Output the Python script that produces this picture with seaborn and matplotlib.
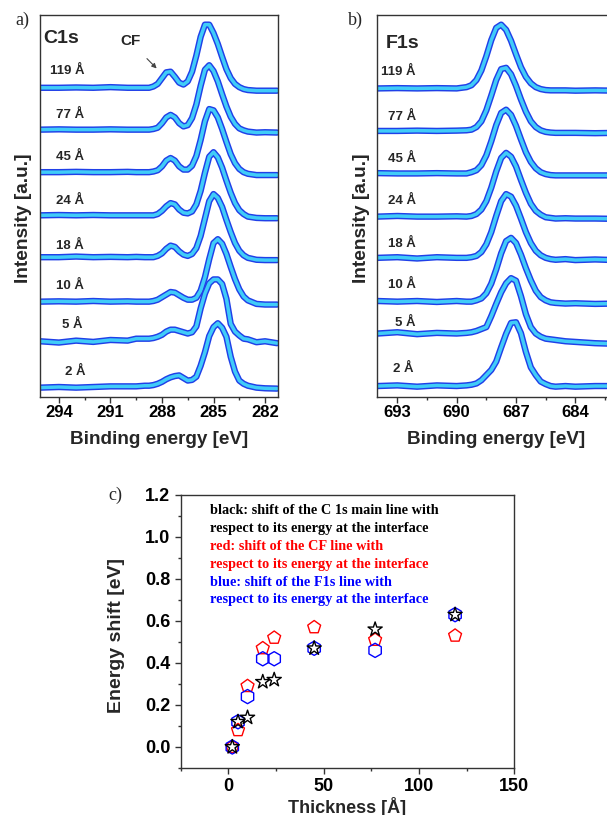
import numpy as np
import matplotlib
matplotlib.use("Agg")
import matplotlib.pyplot as plt
from matplotlib.ticker import MultipleLocator, FormatStrFormatter
import seaborn as sns

sns.set_style("ticks")
plt.rcParams["font.family"] = ["Liberation Sans", "DejaVu Sans"]
plt.rcParams["font.weight"] = "bold"
plt.rcParams["axes.labelweight"] = "bold"

# ====================================
# DATA
# ====================================

thickness_labels = ["119 Å", "77 Å", "45 Å", "24 Å", "18 Å", "10 Å", "5 Å", "2 Å"]

# C 1s spectra (normalised, relative to left baseline)
c1s_energy = [295.1, 294.0, 293.0, 292.0, 291.0, 290.0, 289.5,
              289.0, 288.75, 288.5, 288.25, 288.0, 287.75, 287.5, 287.25,
              287.0, 286.75, 286.5, 286.25, 286.0, 285.75, 285.5, 285.25,
              285.0, 284.75, 284.5, 284.25, 284.0, 283.75, 283.5, 283.25,
              283.0, 282.5, 282.0, 281.3]

c1s_119 = [0.0, 0.0, 0.005, 0.0, 0.01, 0.0, 0.0,
           0.0, 0.0, 0.02, 0.06, 0.15, 0.24, 0.25, 0.17, 0.08, 0.05, 0.10,
           0.25, 0.50, 0.79, 0.98, 0.98, 0.85, 0.68, 0.48, 0.29, 0.15, 0.06,
           0.01, -0.02, -0.035, -0.045, -0.045, -0.045]
c1s_77 = [0.0, 0.005, 0.0, 0.0, 0.005, 0.0, 0.0,
          0.0, 0.0, 0.01, 0.03, 0.10, 0.19, 0.23, 0.19, 0.10, 0.05, 0.07,
          0.18, 0.39, 0.68, 0.93, 1.0, 0.91, 0.75, 0.55, 0.36, 0.20, 0.09,
          0.02, -0.01, -0.03, -0.045, -0.04, -0.045]
c1s_45 = [0.0, 0.0, 0.005, 0.0, 0.0, 0.005, 0.0,
          0.0, 0.0, 0.01, 0.03, 0.09, 0.18, 0.22, 0.18, 0.09, 0.04, 0.04,
          0.10, 0.25, 0.50, 0.79, 0.98, 0.96, 0.85, 0.67, 0.47, 0.28, 0.14,
          0.05, 0.0, -0.025, -0.045, -0.045, -0.045]
c1s_24 = [0.0, 0.005, 0.0, 0.005, 0.0, 0.0, 0.0,
          0.0, 0.0, 0.0, 0.02, 0.07, 0.14, 0.19, 0.17, 0.09, 0.04, 0.03,
          0.06, 0.17, 0.38, 0.66, 0.91, 0.98, 0.90, 0.74, 0.54, 0.35, 0.19,
          0.08, 0.02, -0.02, -0.04, -0.045, -0.045]
c1s_18 = [0.0, 0.0, 0.01, 0.0, 0.005, 0.0, 0.005,
          0.0, 0.0, 0.0, 0.02, 0.06, 0.13, 0.18, 0.16, 0.09, 0.04, 0.02,
          0.05, 0.14, 0.33, 0.60, 0.87, 0.98, 0.92, 0.78, 0.58, 0.39, 0.22,
          0.10, 0.03, -0.01, -0.04, -0.045, -0.045]
c1s_10 = [0.0, 0.005, 0.0, 0.01, 0.0, 0.005, 0.0,
          0.0, 0.0, 0.01, 0.03, 0.07, 0.11, 0.15, 0.14, 0.10, 0.06, 0.03,
          0.03, 0.06, 0.17, 0.38, 0.66, 0.91, 0.97, 0.90, 0.74, 0.54, 0.35,
          0.19, 0.08, 0.02, -0.035, -0.045, -0.045]
c1s_5 = [0.01, -0.01, 0.02, 0.0, 0.03, 0.02, 0.05,
         0.05, 0.05, 0.06, 0.08, 0.11, 0.16, 0.19, 0.19, 0.17, 0.15, 0.13,
         0.15, 0.24, 0.52, 0.75, 0.91, 0.97, 0.97, 0.90, 0.67, 0.28, 0.16,
         0.10, 0.05, 0.04, -0.005, 0.01, -0.02]
c1s_2 = [0.0, 0.01, 0.0, 0.01, 0.02, 0.02, 0.02,
         0.03, 0.03, 0.04, 0.06, 0.09, 0.13, 0.16, 0.18, 0.19, 0.15, 0.11,
         0.12, 0.17, 0.34, 0.55, 0.80, 0.94, 1.0, 0.93, 0.79, 0.48, 0.25,
         0.11, 0.06, 0.03, 0.0, -0.01, -0.015]
c1s_offsets = [4.80, 4.15, 3.49, 2.82, 2.17, 1.48, 0.855, 0.145]

# F 1s spectra
f1s_energy = [694.0, 693.0, 692.0, 691.0, 690.0,
              689.5, 689.25, 689.0, 688.75, 688.5, 688.25, 688.0, 687.75,
              687.5, 687.25, 687.0, 686.75, 686.5, 686.25, 686.0, 685.75,
              685.5, 685.25, 685.0, 684.5, 684.0, 683.0, 682.0]

f1s_119 = [0.0, 0.005, 0.0, 0.005, 0.0,
           0.02, 0.05, 0.13, 0.28, 0.50, 0.75, 0.94, 0.99, 0.91, 0.74, 0.53,
           0.33, 0.18, 0.08, 0.02, -0.01, -0.025, -0.03, -0.03,
           -0.03, -0.035, -0.03, -0.035]
f1s_77 = [0.0, 0.0, 0.005, 0.0, 0.005,
          0.01, 0.02, 0.06, 0.15, 0.32, 0.55, 0.79, 0.96, 0.98, 0.88, 0.70,
          0.49, 0.30, 0.15, 0.06, 0.01, -0.015, -0.025, -0.03,
          -0.03, -0.03, -0.035, -0.03]
f1s_45 = [0.005, 0.0, 0.0, 0.005, 0.0,
          0.0, 0.02, 0.05, 0.13, 0.28, 0.50, 0.75, 0.94, 0.99, 0.91, 0.74,
          0.53, 0.33, 0.18, 0.08, 0.02, -0.01, -0.025, -0.03,
          -0.03, -0.03, -0.03, -0.03]
f1s_24 = [0.0, 0.01, 0.0, 0.0, 0.005,
          0.0, 0.01, 0.04, 0.11, 0.24, 0.45, 0.70, 0.91, 0.99, 0.93, 0.78,
          0.57, 0.37, 0.20, 0.09, 0.03, -0.01, -0.02, -0.03,
          -0.025, -0.03, -0.03, -0.035]
f1s_18 = [0.0, 0.01, -0.01, 0.01, 0.0,
          0.0, 0.01, 0.03, 0.09, 0.21, 0.40, 0.65, 0.88, 0.99, 0.95, 0.81,
          0.61, 0.40, 0.23, 0.11, 0.04, 0.0, -0.02, -0.03,
          -0.02, -0.035, -0.025, -0.035]
f1s_10 = [0.01, 0.0, 0.01, -0.005, 0.01,
          0.0, 0.0, 0.02, 0.05, 0.13, 0.28, 0.50, 0.75, 0.94, 0.99, 0.91,
          0.73, 0.52, 0.33, 0.17, 0.07, 0.02, -0.01, -0.02,
          -0.03, -0.025, -0.035, -0.03]
f1s_5 = [0.0, 0.02, -0.01, 0.01, 0.0,
         0.01, 0.02, 0.04, 0.07, 0.10, 0.27, 0.46, 0.64, 0.78, 0.86, 0.82,
         0.58, 0.30, 0.10, 0.0, -0.05, -0.08, -0.09, -0.10,
         -0.12, -0.13, -0.15, -0.16]
f1s_2 = [0.0, 0.01, -0.01, 0.01, 0.0,
         0.01, 0.02, 0.04, 0.09, 0.17, 0.25, 0.38, 0.60, 0.81, 0.98, 0.99,
         0.82, 0.53, 0.29, 0.17, 0.07, 0.03, 0.0, -0.01,
         0.0, -0.01, 0.0, 0.0]
f1s_offsets = [4.79, 4.13, 3.47, 2.80, 2.16, 1.48, 0.985, 0.17]

# Energy shifts vs thickness
thickness = [2, 5, 10, 18, 24, 45, 77, 119]
shift_c1s = [0.0, 0.12, 0.14, 0.31, 0.32, 0.47, 0.56, 0.63]
shift_cf = [0.0, 0.08, 0.29, 0.47, 0.52, 0.57, 0.51, 0.53]
shift_f1s = [0.0, 0.12, 0.24, 0.42, 0.42, 0.47, 0.46, 0.63]

legend_lines = [
    ("black: shift of the C 1s main line with", "black"),
    ("respect to its energy at the interface", "black"),
    ("red: shift of the CF line with", "red"),
    ("respect to its energy at the interface", "red"),
    ("blue: shift of the F1s line with", "blue"),
    ("respect to its energy at the interface", "blue"),
]

EDGE = "#2040e8"
FACE = "#40ccf8"
SPINE = "#333333"

# ====================================
# FIGURE
# ====================================

fig = plt.figure(figsize=(6.07, 8.15), dpi=100)
ax_a = fig.add_axes([0.0659, 0.5129, 0.392, 0.4687])
ax_b = fig.add_axes([0.621, 0.5129, 0.392, 0.4687])
ax_c = fig.add_axes([0.298, 0.0577, 0.549, 0.335])


def draw_spectra(ax, energy, spectra, offsets):
    for vals, off in zip(spectra, offsets):
        y = np.array(vals) + off
        sns.lineplot(x=energy, y=y, ax=ax, color=EDGE, lw=4.6,
                     sort=False, estimator=None,
                     solid_capstyle="round", solid_joinstyle="round")
        sns.lineplot(x=energy, y=y, ax=ax, color=FACE, lw=2.5,
                     sort=False, estimator=None,
                     solid_capstyle="round", solid_joinstyle="round")


def style_spectrum_axes(ax, xlim):
    ax.set_xlim(*xlim)
    ax.set_ylim(0, 5.93)
    ax.set_yticks([])
    ax.xaxis.set_major_locator(MultipleLocator(3))
    ax.xaxis.set_minor_locator(MultipleLocator(1.5))
    ax.tick_params(axis="x", which="major", direction="out", length=4,
                   width=1, labelsize=12, pad=2, colors=SPINE,
                   labelcolor="black")
    ax.tick_params(axis="x", which="minor", direction="out", length=2.5,
                   width=1, colors=SPINE)
    for sp in ax.spines.values():
        sp.set_color(SPINE)
        sp.set_linewidth(1)
    ax.set_xlabel("Binding energy [eV]", fontsize=13.6)
    ax.xaxis.set_label_coords(0.5, -0.09)
    ax.set_ylabel("Intensity [a.u.]", fontsize=13.8)


# ---- panel a: C1s
draw_spectra(ax_a, c1s_energy,
             [c1s_119, c1s_77, c1s_45, c1s_24, c1s_18, c1s_10, c1s_5, c1s_2],
             c1s_offsets)
style_spectrum_axes(ax_a, (295.1, 281.25))
ax_a.yaxis.set_label_coords(-0.034, 0.469)

c1s_lab_x = [294.5, 294.15, 294.15, 294.15, 294.15, 294.15, 293.8, 293.65]
c1s_lab_y = [5.06, 4.38, 3.72, 3.04, 2.35, 1.73, 1.12, 0.39]
for lab, lx, ly in zip(thickness_labels, c1s_lab_x, c1s_lab_y):
    ax_a.text(lx, ly, lab, fontsize=9.5, ha="left", va="center")
ax_a.text(294.9, 5.56, "C1s", fontsize=14, ha="left", va="center")
ax_a.annotate("CF", xy=(288.31, 5.10), xytext=(289.86, 5.52),
              fontsize=11, ha="center", va="center",
              arrowprops=dict(arrowstyle="-|>", color="#444444", lw=0.8,
                              mutation_scale=7, shrinkA=7, shrinkB=0))

# ---- panel b: F1s
draw_spectra(ax_b, f1s_energy,
             [f1s_119, f1s_77, f1s_45, f1s_24, f1s_18, f1s_10, f1s_5, f1s_2],
             f1s_offsets)
style_spectrum_axes(ax_b, (694.03, 682.0))
ax_b.yaxis.set_label_coords(-0.03, 0.469)

f1s_lab_x = [693.8, 693.45, 693.45, 693.45, 693.45, 693.45, 693.1, 693.2]
f1s_lab_y = [5.04, 4.35, 3.70, 3.04, 2.37, 1.74, 1.15, 0.44]
for lab, lx, ly in zip(thickness_labels, f1s_lab_x, f1s_lab_y):
    ax_b.text(lx, ly, lab, fontsize=9.5, ha="left", va="center")
ax_b.text(693.6, 5.49, "F1s", fontsize=14, ha="left", va="center")

# ---- panel c: energy shift
series = [
    (shift_cf, "p", "red", 95),
    (shift_f1s, "h", "blue", 105),
    (shift_c1s, "*", "black", 115),
]
for vals, mk, col, size in series:
    sns.scatterplot(x=thickness, y=vals, ax=ax_c, marker=mk, s=size,
                    color=col, linewidth=1.0)
    pts = ax_c.collections[-1]
    pts.set_facecolor("none")
    pts.set_edgecolor(col)
    pts.set_linewidth(1.0)

ax_c.set_xlim(-25, 150)
ax_c.set_ylim(-0.1, 1.2)
ax_c.xaxis.set_major_locator(MultipleLocator(50))
ax_c.xaxis.set_minor_locator(MultipleLocator(25))
ax_c.yaxis.set_major_locator(MultipleLocator(0.2))
ax_c.yaxis.set_minor_locator(MultipleLocator(0.1))
ax_c.yaxis.set_major_formatter(FormatStrFormatter("%.1f"))
ax_c.tick_params(which="major", direction="out", length=4, width=1,
                 labelsize=13, colors=SPINE, labelcolor="black")
ax_c.tick_params(which="minor", direction="out", length=2.5, width=1,
                 colors=SPINE)
for sp in ax_c.spines.values():
    sp.set_color(SPINE)
    sp.set_linewidth(1)
ax_c.set_xlabel("Thickness [Å]", fontsize=13)
ax_c.set_ylabel("Energy shift [eV]", fontsize=14)
ax_c.xaxis.set_label_coords(0.5, -0.105)
ax_c.yaxis.set_label_coords(-0.168, 0.485)

for i, (txt, col) in enumerate(legend_lines):
    ax_c.text(-9.6, 1.125 - i * 0.085, txt, color=col, fontsize=10.3,
              family=["Liberation Serif", "DejaVu Serif"],
              fontweight="bold", ha="left", va="center")

# panel letters
for letter, fx, fy in [("a)", 0.025, 0.9755), ("b)", 0.573, 0.9755),
                       ("c)", 0.178, 0.392)]:
    fig.text(fx, fy, letter, fontsize=13, fontweight="normal",
             family=["Liberation Serif", "DejaVu Serif"], ha="left",
             va="center")

plt.savefig("out.png", dpi=100)
plt.close()
